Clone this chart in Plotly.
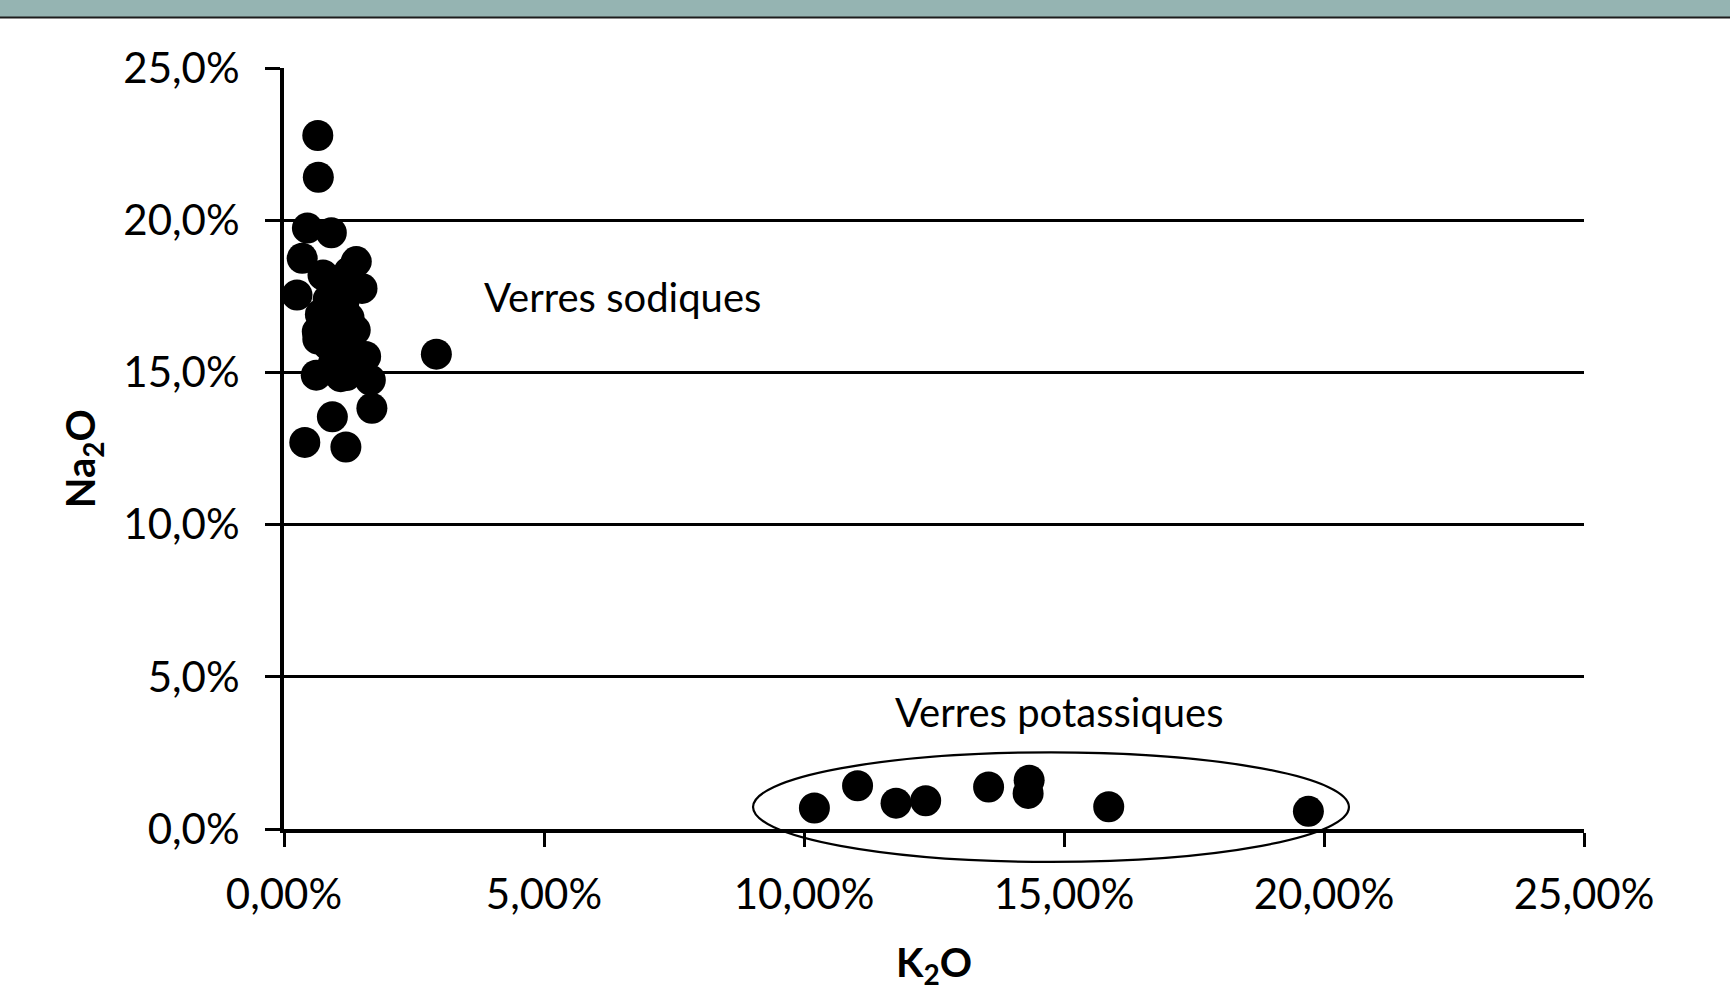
import plotly.graph_objects as go

# Verres sodiques (K2O %, Na2O %)
sodic_k2o = [0.65, 0.66, 0.45, 0.91, 0.35, 1.39, 0.25, 1.50, 0.64, 1.37, 1.57, 0.62, 1.09, 1.66,
             1.69, 0.93, 0.40, 1.19, 2.93, 0.75, 1.05, 1.25, 0.85, 1.15, 0.70, 1.00, 1.25, 0.85,
             1.15, 0.95, 1.30, 1.20, 0.65]
sodic_na2o = [22.78, 21.41, 19.74, 19.59, 18.75, 18.64, 17.54, 17.76, 16.34, 16.39, 15.52, 14.91, 14.86, 14.75,
              13.82, 13.54, 12.70, 12.55, 15.60, 18.20, 18.00, 18.30, 17.40, 17.30, 16.90, 16.60, 16.80, 15.90,
              15.90, 15.30, 15.40, 14.90, 16.10]

# Verres potassiques (K2O %, Na2O %)
potash_k2o = [10.20, 11.03, 11.77, 12.34, 13.55, 14.33, 14.31, 15.86, 19.70]
potash_na2o = [0.69, 1.42, 0.85, 0.93, 1.38, 1.60, 1.17, 0.73, 0.58]

x_ticks = [0, 5, 10, 15, 20, 25]
x_tick_labels = ["0,00%", "5,00%", "10,00%", "15,00%", "20,00%", "25,00%"]
y_ticks = [0, 5, 10, 15, 20, 25]
y_tick_labels = ["0,0%", "5,0%", "10,0%", "15,0%", "20,0%", "25,0%"]
x_range = [0, 25]
y_range = [0, 25]

# ellipse around potassic glasses (data units)
ellipse_k2o = [9.02, 20.48]
ellipse_na2o = [-1.08, 2.52]

FONT = "Lato"
W, H = 1730, 991
M = dict(l=284, r=146, t=68, b=162)

fig = go.Figure()
fig.add_trace(go.Scatter(x=sodic_k2o + potash_k2o, y=sodic_na2o + potash_na2o, mode="markers",
                         marker=dict(size=31, color="black", line=dict(width=0)),
                         cliponaxis=False, showlegend=False, hoverinfo="skip"))

plot_w = W - M["l"] - M["r"]
plot_h = H - M["t"] - M["b"]


def px(v):
    return (v - x_range[0]) / (x_range[1] - x_range[0])


def py(v):
    return (v - y_range[0]) / (y_range[1] - y_range[0])


left_edge = -M["l"] / plot_w - 0.01
right_edge = 1 + M["r"] / plot_w + 0.01
shapes = [
    # top teal band
    dict(type="rect", xref="paper", yref="paper", x0=left_edge, x1=right_edge,
         y0=1 + (M["t"] - 17) / plot_h, y1=1 + (M["t"] + 2) / plot_h,
         fillcolor="#95b4b2", line=dict(width=0), layer="below"),
    dict(type="line", xref="paper", yref="paper", x0=left_edge, x1=right_edge,
         y0=1 + (M["t"] - 17.5) / plot_h, y1=1 + (M["t"] - 17.5) / plot_h,
         line=dict(color="#1c1c1c", width=2)),
    dict(type="circle", xref="paper", yref="paper",
         x0=px(ellipse_k2o[0]), x1=px(ellipse_k2o[1]),
         y0=py(ellipse_na2o[0]), y1=py(ellipse_na2o[1]),
         line=dict(color="black", width=2.2), fillcolor="rgba(0,0,0,0)", layer="above"),
]

annotations = [
    dict(x=3.81, y=17.48, xref="x", yref="y", text="Verres sodiques", showarrow=False,
         xanchor="left", yanchor="middle", font=dict(family=FONT, size=40, color="black")),
    dict(x=11.71, y=3.84, xref="x", yref="y", text="Verres potassiques", showarrow=False,
         xanchor="left", yanchor="middle", font=dict(family=FONT, size=40, color="black")),
]

fig.update_layout(
    width=W, height=H, margin=M,
    paper_bgcolor="white", plot_bgcolor="white",
    font=dict(family=FONT, size=42, color="black"),
    shapes=shapes, annotations=annotations,
    xaxis=dict(range=x_range, tickvals=x_ticks, ticktext=x_tick_labels, automargin=False,
               showgrid=False, zeroline=False, showline=True, linecolor="black", linewidth=4,
               ticks="outside", ticklen=14, tickwidth=3, tickcolor="black",
               ticklabelstandoff=12,
               title=dict(text="<b>K<sub>2</sub>O</b>", font=dict(family=FONT, size=40), standoff=46)),
    yaxis=dict(range=y_range, tickvals=y_ticks, ticktext=y_tick_labels, automargin=False,
               showgrid=True, gridcolor="black", gridwidth=3, zeroline=False,
               showline=True, linecolor="black", linewidth=4,
               ticks="outside", ticklen=15, tickwidth=3, tickcolor="black",
               ticklabelstandoff=17,
               title=dict(text="<b>Na<sub>2</sub>O</b>&nbsp;&nbsp;", font=dict(family=FONT, size=40),
                          standoff=16)),
)

fig.write_html("out.html", config={"displayModeBar": False},
               post_script="document.body.style.margin='0';")
